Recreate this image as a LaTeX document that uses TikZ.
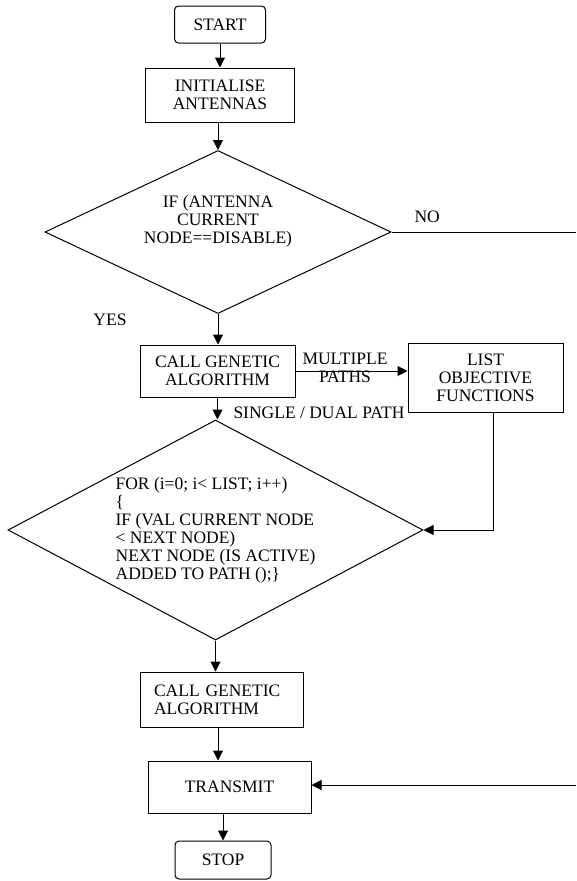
\documentclass[tikz,border=0pt]{standalone}
\usepackage{fontspec}
\setmainfont{Liberation Serif}
\usetikzlibrary{arrows.meta, positioning, shapes.geometric}

\begin{document}
\begin{tikzpicture}[x=1pt, y=-1pt, line width=1pt,
      every node/.style={font=\fontsize{17.5}{18}\selectfont},
      proc/.style={draw, line width=1pt, inner sep=0pt, align=center},
      term/.style={proc, rounded corners=4pt},
      cond/.style={draw, diamond, line width=1pt, inner sep=0pt},
      lbl/.style={inner sep=0pt, align=center},
      arr/.style={line width=1pt, -{Triangle[length=10pt, width=10pt]}}]

    % page = reference image, 1 px = 1 pt, y runs downward
    \useasboundingbox (0,0) rectangle (576,881);

    % === top part ===
    \node[term, minimum width=91pt, minimum height=37pt] (start) at (220,24.5) {START};
    \node[proc, minimum width=149pt, minimum height=54pt] (init) at (220,95) {INITIALISE\\ANTENNAS};

    \node[cond, aspect=2.1, minimum width=346pt, minimum height=163pt] (dec1) at (218,232) {};
    \node[lbl] (dec1txt) at (218,221) {IF (ANTENNA\\CURRENT\\NODE==DISABLE)};
    \node[lbl, anchor=west] (no) at (414,217) {NO};
    \node[lbl] (yes) at (110,320) {YES};

    % === genetic algorithm + objective list ===
    \node[proc, minimum width=155pt, minimum height=52pt] (call1) at (217.5,371) {CALL GENETIC\\ALGORITHM};
    \node[proc, minimum width=155pt, minimum height=69pt] (list) at (485.5,377.5) {LIST\\OBJECTIVE\\FUNCTIONS};
    \node[lbl] (multi) at (345,368) {MULTIPLE\\PATHS};
    \node[lbl, anchor=west] (single) at (233,413) {SINGLE / DUAL PATH};

    % === loop over list ===
    \node[cond, aspect=1.89, minimum width=415pt, minimum height=220pt, align=left] (dec2) at (215.5,530)
        {FOR (i=0; i< LIST; i++)\\
         \{\\
         IF (VAL CURRENT NODE\\
         < NEXT NODE)\\
         NEXT NODE (IS ACTIVE)\\
         ADDED TO PATH ();\}};

    % === bottom part ===
    \node[proc, minimum width=163pt, minimum height=55pt, text width=135pt, align=left] (call2) at (221.5,699.5) {CALL GENETIC\\ALGORITHM};
    \node[proc, minimum width=163pt, minimum height=52pt] (tx) at (229.5,787) {TRANSMIT};
    \node[term, minimum width=96pt, minimum height=38pt] (stop) at (223,860) {STOP};

    % free ends of the NO branch (it leaves the page)
    \coordinate (noout) at (576,232);
    \coordinate (noin) at (576,785);

    % connectors
    \draw[arr] (start) -- (init);
    \draw[arr] (init.south -| dec1.north) -- (dec1.north);
    \draw (dec1.east) -- (noout);
    \draw[arr] (dec1.south) -- (call1.north -| dec1.south);
    \draw[arr] (call1.east) -- (call1.east -| list.west);
    \draw[arr] (call1.south) -- (call1.south |- dec2.north);
    \draw[arr] ([xshift=7.5pt]list.south) |- (dec2.east);
    \draw[arr] (dec2.south) -- (dec2.south |- call2.north);
    \draw[arr] ([xshift=-3.5pt]call2.south) -- ([xshift=-3.5pt]call2.south |- tx.north);
    \draw[arr] (noin) -- (tx.east |- noin);
    \draw[arr] (stop.north |- tx.south) -- (stop.north);

\end{tikzpicture}
\end{document}
